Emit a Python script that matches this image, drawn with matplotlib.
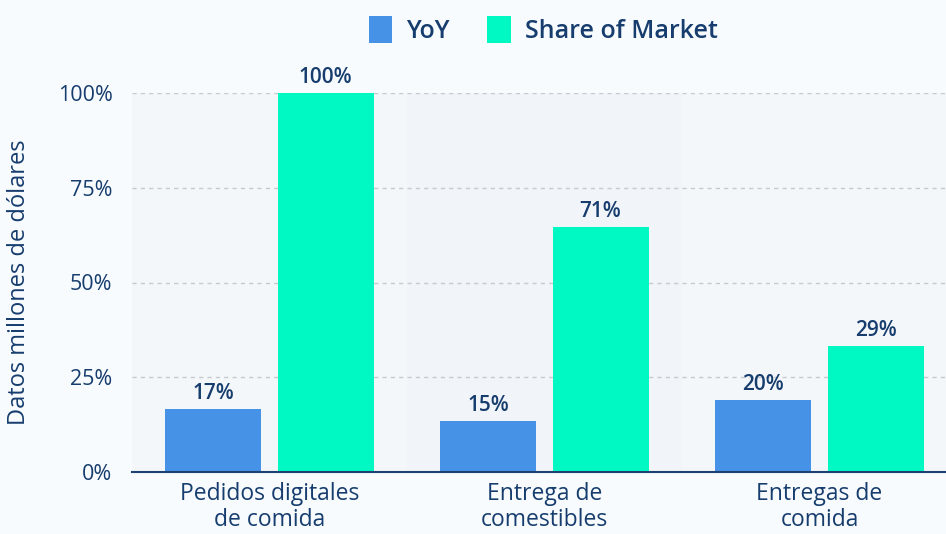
import matplotlib
matplotlib.use("Agg")
import matplotlib.pyplot as plt
from matplotlib.patches import Patch

plt.rcParams['font.family'] = ['Open Sans', 'DejaVu Sans']

# datos del grafico
categorias = ["Pedidos digitales\nde comida", "Entrega de\ncomestibles", "Entregas de\ncomida"]
yoy = [16.6, 13.5, 19.0]
share = [100, 64.6, 33.2]
yoy_labels = ["17%", "15%", "20%"]
share_labels = ["100%", "71%", "29%"]
ticks = [0, 25, 50, 75, 100]
tick_labels = ["0%", "25%", "50%", "75%", "100%"]

azul = "#4592e6"
verde = "#00f9c3"
texto = "#163d6e"
fondo = "#f8fbfe"

fig = plt.figure(figsize=(9.46, 5.34), dpi=100)
fig.patch.set_facecolor(fondo)
ax = fig.add_axes([132 / 946, 62 / 534, 825 / 946, 379 / 534])
ax.set_facecolor("none")

# bandas de fondo por categoria
for i in range(len(categorias)):
    ax.axvspan(i - 0.5, i + 0.5, color="#f1f4f8" if i == 1 else "#f4f7fa", zorder=0, lw=0)

x = list(range(len(categorias)))
w = 0.349
off = 0.204
b1 = ax.bar([i - off for i in x], yoy, w, color=azul, zorder=3)
b2 = ax.bar([i + off for i in x], share, w, color=verde, zorder=3)

for barras, etiquetas in [(b1, yoy_labels), (b2, share_labels)]:
    for rect, lab in zip(barras, etiquetas):
        ax.text(rect.get_x() + rect.get_width() / 2, rect.get_height() + 1.3, lab,
                ha="center", va="bottom", fontsize=15, fontweight="semibold",
                color=texto, clip_on=False)

ax.set_xlim(-0.5, 2.5)
ax.set_ylim(0, 100)
ax.set_yticks(ticks)
ax.set_yticklabels(tick_labels)
ax.set_xticks(x)
ax.set_xticklabels(categorias, fontsize=16.5, color=texto, linespacing=1.1)
ax.tick_params(axis="y", length=0, pad=14, labelsize=15.5, labelcolor=texto)
ax.tick_params(axis="x", length=0, pad=7)
ax.grid(axis="y", linestyle=(0, (3, 3)), color="#c6cacf", lw=1, zorder=1)
for s in ["top", "right", "left"]:
    ax.spines[s].set_visible(False)
ax.spines["bottom"].set_color("#1d4170")
ax.spines["bottom"].set_linewidth(1.5)
ax.spines["bottom"].set_zorder(4)
ax.set_ylabel("Datos millones de dólares", fontsize=17, color=texto)
ax.yaxis.set_label_coords(-101 / 825, 0.5)

handles = [Patch(facecolor=azul, label="YoY"), Patch(facecolor=verde, label="Share of Market")]
leg = fig.legend(handles=handles, loc="center", bbox_to_anchor=(543 / 946, 1 - 30 / 534), ncol=2,
                 frameon=False, fontsize=18, handlelength=0.95, handleheight=1.3,
                 handletextpad=0.55, columnspacing=1.5)
for t in leg.get_texts():
    t.set_color(texto)
    t.set_fontweight("semibold")

fig.savefig("out.png", dpi=100, facecolor=fondo)
